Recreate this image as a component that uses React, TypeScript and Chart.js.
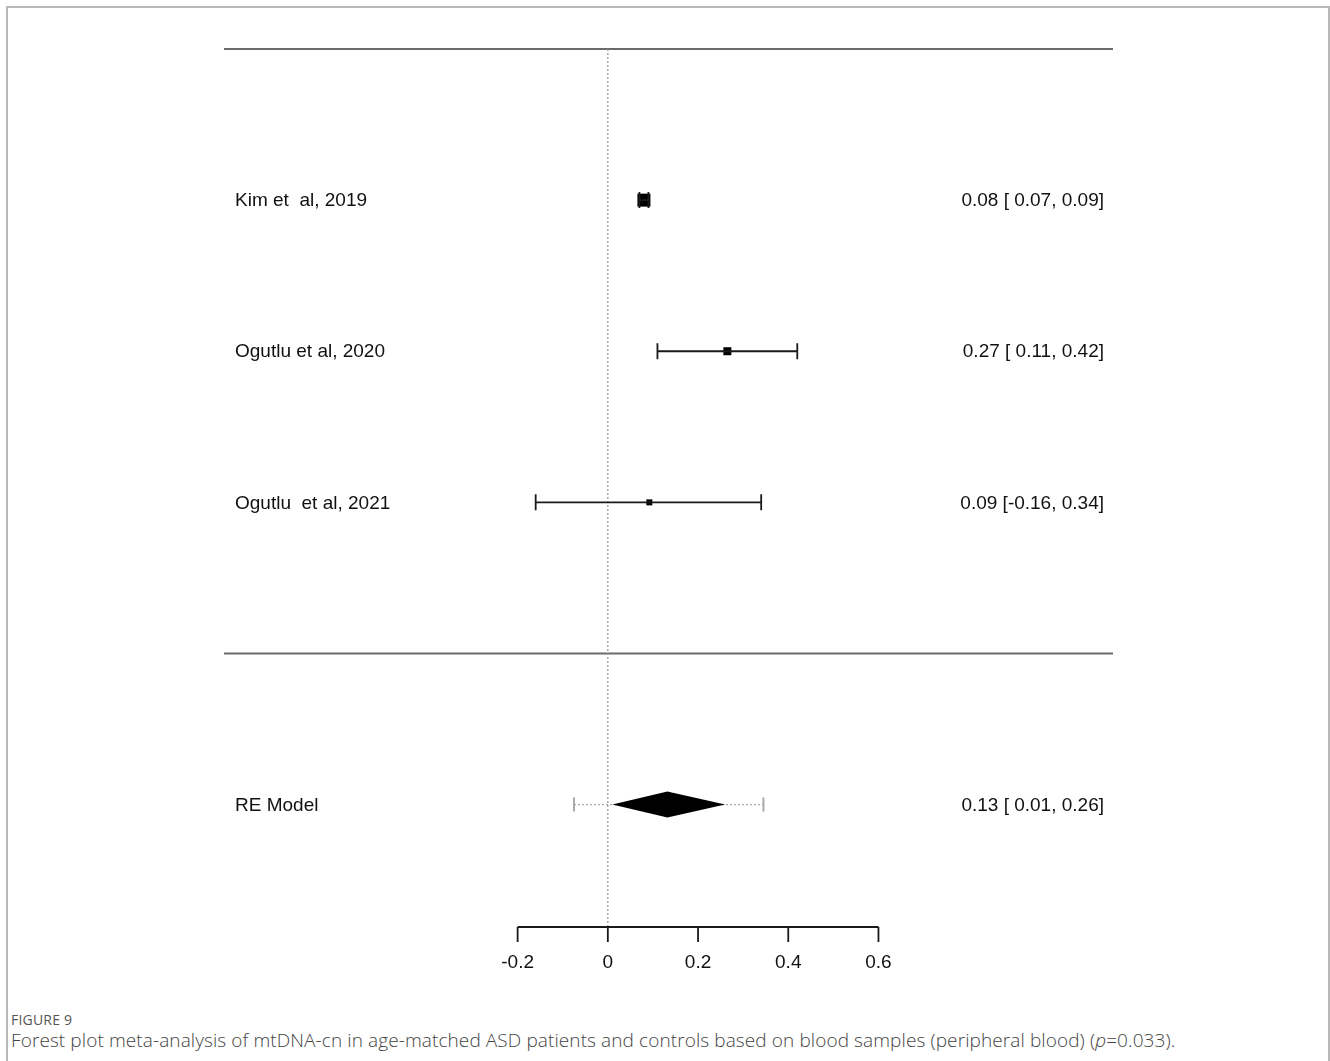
import React, { useEffect, useRef } from "react";
import { Chart, registerables } from "chart.js";

Chart.register(...registerables);

// ---- data ----
const studies = ["Kim et  al, 2019", "Ogutlu et al, 2020", "Ogutlu  et al, 2021"];
const estimates = [0.08, 0.265, 0.092];
const lowerCI = [0.07, 0.11, -0.16];
const upperCI = [0.09, 0.42, 0.34];
const estLabels = ["0.08", "0.27", "0.09"];
const lowLabels = [" 0.07", " 0.11", "-0.16"];
const upLabels = ["0.09", "0.42", "0.34"];
const markerSizes = [6.5, 4, 3]; // half-size px (weights)
const studyRows = [3, 2, 1];

const modelLabel = "RE Model";
const modelRow = -1;
const modelEst = 0.132;
const modelLow = 0.01;
const modelUp = 0.26;
const modelPiLow = -0.075;
const modelPiUp = 0.345;
const modelText = "0.13 [ 0.01, 0.26]";

const xTicks = [-0.2, 0, 0.2, 0.4, 0.6];
const xTickLabels = ["-0.2", "0", "0.2", "0.4", "0.6"];

const FONT = '"Liberation Sans", Arial, sans-serif';

const forestPlugin = {
  id: "forest",
  afterDatasetsDraw(chart: any) {
    const { ctx, chartArea, scales } = chart;
    const xs = scales.x;
    const ys = scales.y;
    const X = (v: number) => xs.getPixelForValue(v);
    const Y = (v: number) => ys.getPixelForValue(v);
    ctx.save();

    // top line & separator
    ctx.strokeStyle = "#6a6a6a";
    ctx.lineWidth = 2;
    [4, 0].forEach((r) => {
      ctx.beginPath();
      ctx.moveTo(chartArea.left, Y(r));
      ctx.lineTo(chartArea.right, Y(r));
      ctx.stroke();
    });

    // dotted reference line at 0
    ctx.strokeStyle = "#999";
    ctx.lineWidth = 1.3;
    ctx.setLineDash([2, 2]);
    ctx.beginPath();
    ctx.moveTo(X(0), Y(4));
    ctx.lineTo(X(0), chartArea.bottom);
    ctx.stroke();
    ctx.setLineDash([]);

    // study CIs
    ctx.strokeStyle = "#1a1a1a";
    ctx.lineWidth = 1.8;
    studies.forEach((_, i) => {
      const y = Y(studyRows[i]);
      const x1 = X(lowerCI[i]);
      const x2 = X(upperCI[i]);
      ctx.beginPath();
      ctx.moveTo(x1, y);
      ctx.lineTo(x2, y);
      ctx.moveTo(x1, y - 8);
      ctx.lineTo(x1, y + 8);
      ctx.moveTo(x2, y - 8);
      ctx.lineTo(x2, y + 8);
      ctx.stroke();
    });

    // prediction interval (dotted grey)
    const my = Y(modelRow);
    ctx.strokeStyle = "#aaa";
    ctx.lineWidth = 1.4;
    ctx.setLineDash([2, 2]);
    ctx.beginPath();
    ctx.moveTo(X(modelPiLow), my);
    ctx.lineTo(X(modelPiUp), my);
    ctx.stroke();
    ctx.setLineDash([]);
    ctx.lineWidth = 2;
    ctx.beginPath();
    ctx.moveTo(X(modelPiLow), my - 7);
    ctx.lineTo(X(modelPiLow), my + 7);
    ctx.moveTo(X(modelPiUp), my - 7);
    ctx.lineTo(X(modelPiUp), my + 7);
    ctx.stroke();

    // diamond
    ctx.fillStyle = "#000";
    ctx.beginPath();
    ctx.moveTo(X(modelLow), my);
    ctx.lineTo(X(modelEst), my - 13);
    ctx.lineTo(X(modelUp), my);
    ctx.lineTo(X(modelEst), my + 13);
    ctx.closePath();
    ctx.fill();

    // labels
    ctx.fillStyle = "#111";
    ctx.font = `19px ${FONT}`;
    ctx.textBaseline = "middle";
    ctx.textAlign = "left";
    studies.forEach((s, i) => ctx.fillText(s, chartArea.left + 11, Y(studyRows[i]) + 1));
    ctx.fillText(modelLabel, chartArea.left + 11, my + 1);
    ctx.textAlign = "right";
    studies.forEach((_, i) =>
      ctx.fillText(`${estLabels[i]} [${lowLabels[i]}, ${upLabels[i]}]`, chartArea.right - 9, Y(studyRows[i]) + 1)
    );
    ctx.fillText(modelText, chartArea.right - 9, my + 1);

    // x axis
    const ay = chartArea.bottom;
    ctx.strokeStyle = "#1a1a1a";
    ctx.lineWidth = 1.8;
    ctx.beginPath();
    ctx.moveTo(X(xTicks[0]), ay);
    ctx.lineTo(X(xTicks[xTicks.length - 1]), ay);
    xTicks.forEach((t) => {
      ctx.moveTo(X(t), ay);
      ctx.lineTo(X(t), ay + 15);
    });
    ctx.stroke();
    ctx.textAlign = "center";
    ctx.fillStyle = "#111";
    xTicks.forEach((t, i) => ctx.fillText(xTickLabels[i], X(t), ay + 36));

    ctx.restore();
  },
};

export default function App() {
  const ref = useRef<HTMLCanvasElement | null>(null);
  useEffect(() => {
    if (!ref.current) return;
    const chart = new Chart(ref.current, {
      type: "scatter",
      data: {
        datasets: [
          {
            data: estimates.map((e, i) => ({ x: e, y: studyRows[i] })),
            pointStyle: "rect",
            pointRadius: markerSizes.map((s) => s * 1.414),
            backgroundColor: "#000",
            borderColor: "#000",
            borderWidth: 0,
          },
        ],
      },
      plugins: [forestPlugin],
      options: {
        responsive: false,
        animation: false,
        layout: { padding: { left: 224, right: 217, top: 49, bottom: 73 } },
        plugins: { legend: { display: false }, tooltip: { enabled: false } },
        scales: {
          x: { type: "linear", min: -0.851, max: 1.12, display: false },
          y: { type: "linear", min: -1.81, max: 4, display: false },
        },
      },
    });
    return () => chart.destroy();
  }, []);

  return (
    <div style={{ position: "fixed", left: 0, top: 0, width: 1330, height: 1061, background: "#fff", overflow: "hidden" }}>
      <div
        style={{
          position: "absolute",
          left: 6,
          top: 6,
          width: 1324,
          height: 1070,
          borderLeft: "2px solid #b8b8b8",
          borderTop: "2px solid #b8b8b8",
          borderRight: "2px solid #b8b8b8",
          boxSizing: "border-box",
        }}
      />
      <canvas ref={ref} width={1330} height={1000} style={{ position: "absolute", left: 0, top: 0, width: 1330, height: 1000 }} />
      <div
        style={{
          position: "absolute",
          left: 11,
          top: 1010,
          fontFamily: '"Open Sans", sans-serif',
          fontSize: 14,
          lineHeight: "20px",
          color: "#555",
          letterSpacing: 0.2,
        }}
      >
        FIGURE 9
      </div>
      <div
        style={{
          position: "absolute",
          left: 11,
          top: 1027,
          fontFamily: '"Open Sans", sans-serif',
          fontWeight: 300,
          fontSize: 19,
          lineHeight: "26px",
          letterSpacing: 0.1,
          color: "#444",
          whiteSpace: "nowrap",
        }}
      >
        Forest plot meta-analysis of mtDNA-cn in age-matched ASD patients and controls based on blood samples (peripheral blood) (<i>p</i>=0.033).
      </div>
    </div>
  );
}
